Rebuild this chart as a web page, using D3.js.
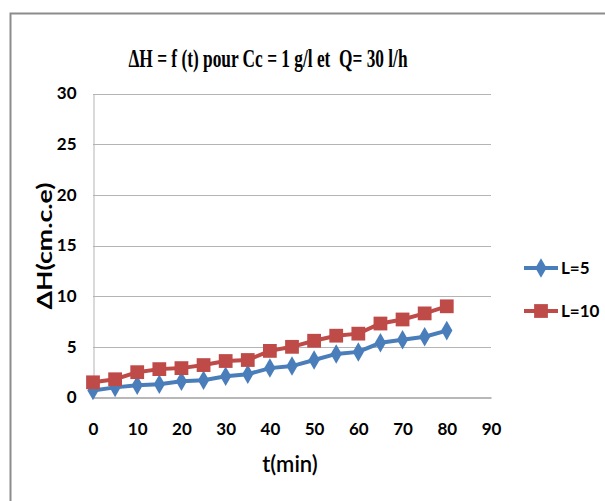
<!DOCTYPE html>
<html>
<head>
<meta charset="utf-8">
<script src="https://cdn.jsdelivr.net/npm/d3@7"></script>
<style>
  html, body { margin: 0; padding: 0; background: #fff; }
  svg { display: block; }
</style>
</head>
<body>
<svg id="chart" width="605" height="501"></svg>
<script>
// Time in minutes
const times = [0, 5, 10, 15, 20, 25, 30, 35, 40, 45, 50, 55, 60, 65, 70, 75, 80];
// Pressure drop ΔH (cm.c.e) for each column length
const seriesL5  = [0.7, 1.0, 1.2, 1.3, 1.6, 1.7, 2.1, 2.3, 2.9, 3.1, 3.7, 4.3, 4.5, 5.4, 5.7, 6.0, 6.6];
const seriesL10 = [1.5, 1.8, 2.5, 2.8, 2.9, 3.2, 3.6, 3.7, 4.6, 5.0, 5.6, 6.1, 6.3, 7.3, 7.7, 8.3, 9.0];
const seriesNames = ["L=5", "L=10"];
const xTicks = [0, 10, 20, 30, 40, 50, 60, 70, 80, 90];
const yTicks = [0, 5, 10, 15, 20, 25, 30];

const svg = d3.select("#chart");
const tickFont = "Lato, 'Liberation Sans', sans-serif";

// outer chart frame
svg.append("path")
  .attr("d", "M10.5,501 V13.5 H605")
  .attr("fill", "none")
  .attr("stroke", "#8c8c8c")
  .attr("stroke-width", 2);

const plot = { left: 93, right: 491, top: 93.5, bottom: 397.5 };
const x = d3.scaleLinear().domain([0, 90]).range([plot.left, plot.right]);
const y = d3.scaleLinear().domain([0, 30]).range([plot.bottom, plot.top]);

// horizontal gridlines
svg.append("g")
  .selectAll("line")
  .data(yTicks.filter(d => d > 0))
  .join("line")
  .attr("x1", plot.left).attr("x2", plot.right)
  .attr("y1", d => Math.round(y(d)) + 0.5).attr("y2", d => Math.round(y(d)) + 0.5)
  .attr("stroke", "#b4b4b4").attr("stroke-width", 1);

// y axis
const yAxis = svg.append("g")
  .attr("transform", `translate(${plot.left + 0.5},0)`)
  .call(d3.axisLeft(y).tickValues(yTicks).tickSize(0).tickPadding(17));
yAxis.select(".domain").attr("stroke", "#b4b4b4");
yAxis.selectAll("text")
  .attr("font-family", tickFont).attr("font-weight", "bold")
  .attr("font-size", 17).attr("fill", "#000");

// x axis
const xAxis = svg.append("g")
  .attr("transform", `translate(0,${plot.bottom})`)
  .call(d3.axisBottom(x).tickValues(xTicks).tickSize(0).tickPadding(25));
xAxis.select(".domain").attr("stroke", "#a0a0a0").attr("stroke-width", 1.5);
xAxis.selectAll("text")
  .attr("font-family", tickFont).attr("font-weight", "bold")
  .attr("font-size", 17).attr("fill", "#000");

// titles
svg.append("text")
  .attr("x", 268).attr("y", 67)
  .attr("text-anchor", "middle")
  .style("white-space", "pre")
  .attr("font-family", "'Liberation Serif', serif")
  .attr("font-weight", "bold").attr("font-size", 26)
  .attr("textLength", 279).attr("lengthAdjust", "spacingAndGlyphs")
  .text("ΔH = f (t) pour Cc = 1 g/l et  Q= 30 l/h");

svg.append("text")
  .attr("x", 290).attr("y", 472)
  .attr("text-anchor", "middle")
  .attr("font-family", tickFont)
  .attr("font-size", 22).attr("font-weight", 600).attr("fill", "#000")
  .text("t(min)");

svg.append("text")
  .attr("transform", "translate(52,246) rotate(-90)")
  .attr("text-anchor", "middle")
  .attr("font-family", tickFont)
  .attr("font-weight", "bold").attr("font-size", 20).attr("fill", "#000")
  .attr("textLength", 127).attr("lengthAdjust", "spacingAndGlyphs")
  .text("ΔH(cm.c.e)");

// series
const series = [
  { name: seriesNames[0], values: seriesL5,  color: "#4a7ebb", symbol: d3.symbolDiamond, size: 110 },
  { name: seriesNames[1], values: seriesL10, color: "#be4b48", symbol: d3.symbolSquare,  size: 190 }
];

const line = d3.line().x((d, i) => x(times[i])).y(d => y(d));

series.forEach(s => {
  const g = svg.append("g");
  g.append("path")
    .datum(s.values)
    .attr("fill", "none")
    .attr("stroke", s.color)
    .attr("stroke-width", 4)
    .attr("d", line);
  g.selectAll("path.mk")
    .data(s.values)
    .join("path")
    .attr("class", "mk")
    .attr("transform", (d, i) => `translate(${x(times[i])},${y(d)})`)
    .attr("d", d3.symbol().type(s.symbol).size(s.size))
    .attr("fill", s.color);
});

// legend
const legend = svg.append("g");
const legendY = [268, 311];
series.forEach((s, i) => {
  const g = legend.append("g").attr("transform", `translate(0,${legendY[i]})`);
  g.append("line")
    .attr("x1", 524).attr("x2", 558)
    .attr("stroke", s.color).attr("stroke-width", 4);
  g.append("path")
    .attr("transform", "translate(541,0)")
    .attr("d", d3.symbol().type(s.symbol).size(s.size))
    .attr("fill", s.color);
  g.append("text")
    .attr("x", 561).attr("y", 6)
    .attr("font-family", tickFont).attr("font-weight", "bold")
    .attr("font-size", 17).attr("fill", "#000")
    .text(s.name);
});
</script>
</body>
</html>
